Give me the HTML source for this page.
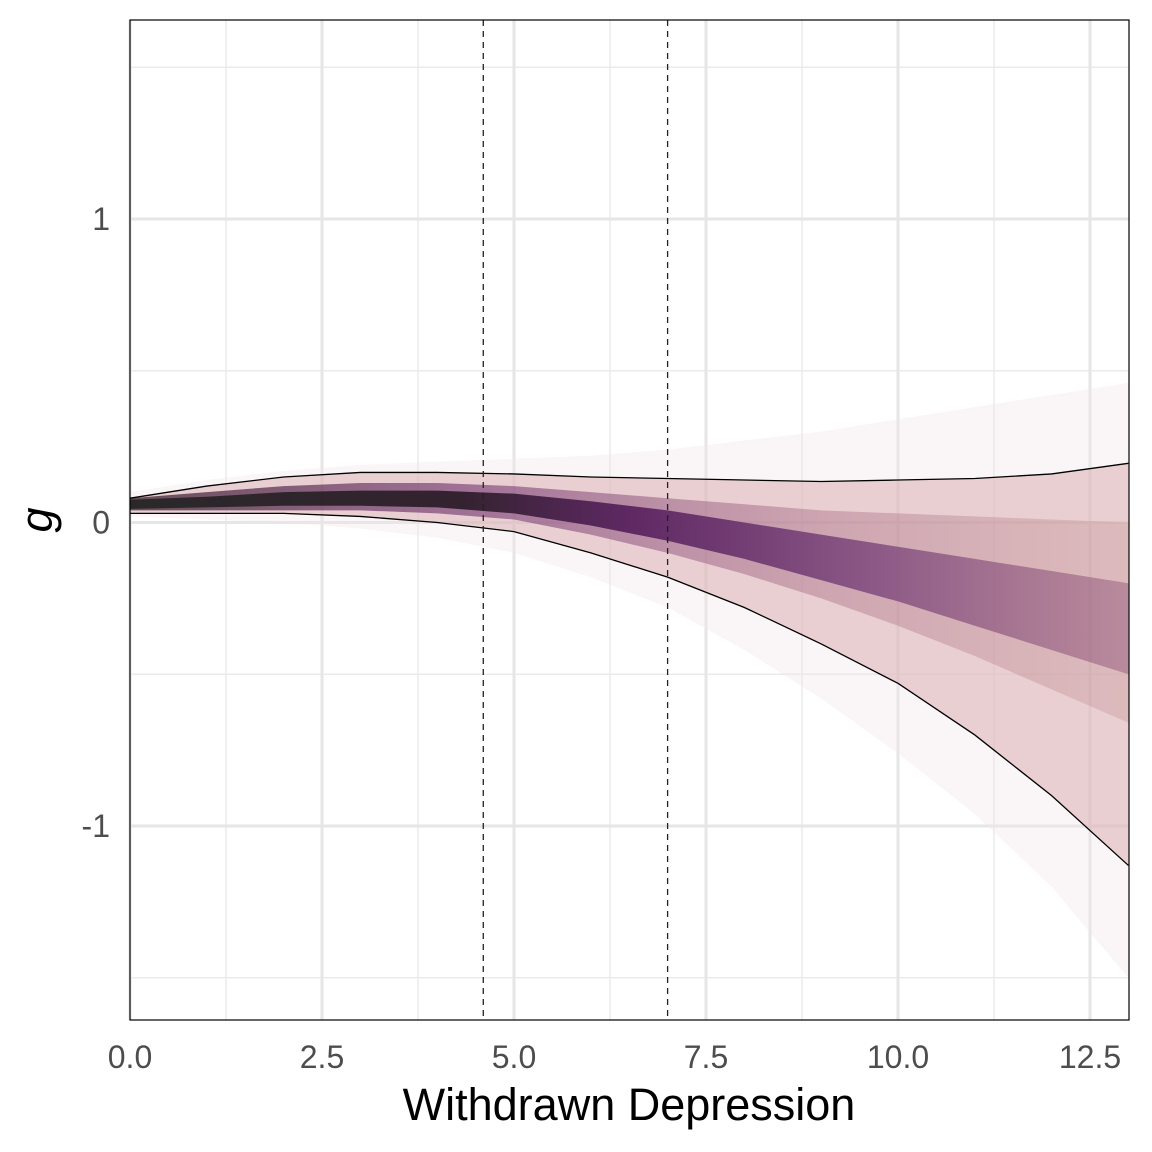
<!DOCTYPE html>
<html><head><meta charset="utf-8"><style>
body{margin:0;background:#fff}
svg{display:block;font-family:"Liberation Sans",sans-serif}
</style></head><body>
<svg id="chart" width="1152" height="1152">
<defs>
<linearGradient id="coreGrad" gradientUnits="userSpaceOnUse" x1="130" y1="0" x2="1129" y2="0">
<stop offset="0" stop-color="#262626"/><stop offset="0.33" stop-color="#2e1e2a"/><stop offset="0.5" stop-color="#5a2360"/><stop offset="0.75" stop-color="#6a3270" stop-opacity="0.7"/><stop offset="1" stop-color="#8a4a70" stop-opacity="0.45"/>
</linearGradient>
<linearGradient id="midGrad" gradientUnits="userSpaceOnUse" x1="130" y1="0" x2="1129" y2="0">
<stop offset="0" stop-color="#3a2030"/><stop offset="0.35" stop-color="#6b2a6a" stop-opacity="0.75"/><stop offset="0.7" stop-color="#a0607a" stop-opacity="0.5"/><stop offset="1" stop-color="#c08a8a" stop-opacity="0.4"/>
</linearGradient>
<clipPath id="clip"><rect x="130" y="20" width="999" height="1000"/></clipPath>
</defs>
<g id="grid"></g>
<g id="marks" clip-path="url(#clip)"></g>
<rect x="130" y="20" width="999" height="1000" fill="none" stroke="#000" stroke-width="1.2"/>
<g id="axes"></g>
<text x="629" y="1120" text-anchor="middle" font-size="45" fill="#000">Withdrawn Depression</text>
<text transform="translate(52,520) rotate(-90)" text-anchor="middle" font-size="45" font-style="italic" fill="#000">g</text>
</svg>
<script>
const xs=[0,1,2,3,4,5,6,7,8,9,10,11,12,13];
const upper=[0.08,0.12,0.15,0.165,0.165,0.16,0.15,0.145,0.14,0.135,0.14,0.145,0.16,0.195];
const lower=[0.03,0.03,0.03,0.02,0.0,-0.03,-0.1,-0.18,-0.28,-0.4,-0.53,-0.7,-0.9,-1.13];
const outerHi=[0.1,0.14,0.17,0.19,0.2,0.21,0.22,0.24,0.27,0.3,0.34,0.38,0.42,0.46];
const outerLo=[0.02,0.01,0.0,-0.02,-0.05,-0.1,-0.18,-0.28,-0.42,-0.58,-0.76,-0.96,-1.2,-1.5];
const midHi=[0.08,0.1,0.12,0.13,0.13,0.12,0.1,0.08,0.06,0.04,0.03,0.02,0.01,0.0];
const midLo=[0.04,0.04,0.04,0.04,0.03,0.01,-0.04,-0.1,-0.17,-0.25,-0.34,-0.44,-0.55,-0.66];
const coreHi=[0.075,0.085,0.1,0.105,0.105,0.095,0.07,0.04,0.0,-0.04,-0.08,-0.12,-0.16,-0.2];
const coreLo=[0.045,0.05,0.055,0.055,0.05,0.03,-0.01,-0.06,-0.12,-0.19,-0.26,-0.34,-0.42,-0.5];
const xTicks=[0,2.5,5,7.5,10,12.5];
const xTickLabels=["0.0","2.5","5.0","7.5","10.0","12.5"];
const xMinor=[1.25,3.75,6.25,8.75,11.25];
const yTicks=[1,0,-1];
const yTickLabels=["1","0","-1"];
const yMinor=[1.5,0.5,-0.5,-1.5];
const vlines=[4.6,7.0];
const X=v=>130+v*76.8;
const Y=v=>522.5-v*303.5;
const NS="http://www.w3.org/2000/svg";
function mk(t,a,p){const e=document.createElementNS(NS,t);for(const k in a)e.setAttribute(k,a[k]);p.appendChild(e);return e;}
const grid=document.getElementById('grid'),marks=document.getElementById('marks'),axes=document.getElementById('axes');
xMinor.forEach(v=>{const l=mk('line',{x1:X(v),x2:X(v),y1:20,y2:1020,stroke:'#ebebeb','stroke-width':1.5},grid);

});
yMinor.forEach(v=>{const l=mk('line',{x1:130,x2:1129,y1:Y(v),y2:Y(v),stroke:'#ebebeb','stroke-width':1.5},grid);

});
xTicks.forEach((v,i)=>{const l=mk('line',{x1:X(v),x2:X(v),y1:20,y2:1020,stroke:'#e6e6e6','stroke-width':3},grid);


const t=mk('text',{x:X(v),y:1068,'text-anchor':'middle','font-size':32,fill:'#4d4d4d'},axes);t.textContent=xTickLabels[i];

});
yTicks.forEach((v,i)=>{const l=mk('line',{x1:130,x2:1129,y1:Y(v),y2:Y(v),stroke:'#e6e6e6','stroke-width':3},grid);


const t=mk('text',{x:110,y:Y(v)+11,'text-anchor':'end','font-size':32,fill:'#4d4d4d'},axes);t.textContent=yTickLabels[i];

});
function band(hi,lo,fill,op,name){
let d='M'+xs.map((x,i)=>X(x)+','+Y(hi[i])).join('L');
d+='L'+xs.map((x,i)=>X(x)+','+Y(lo[i])).reverse().join('L')+'Z';
const p=mk('path',{d:d,fill:fill,'fill-opacity':op},marks);

}
band(outerHi,outerLo,'#f0e2e5',0.35,'outer-draw-band');
band(upper,lower,'#d8a9ae',0.5,'interval-band');
band(midHi,midLo,'url(#midGrad)',0.75,'mid-draw-band');
band(coreHi,coreLo,'url(#coreGrad)',0.95,'core-draw-band');
function line(arr,name){const p=mk('path',{d:'M'+xs.map((x,i)=>X(x)+','+Y(arr[i])).join('L'),fill:'none',stroke:'#000','stroke-width':1.3},marks);

}
line(upper,'upper-interval-line');line(lower,'lower-interval-line');
vlines.forEach(v=>{const l=mk('line',{x1:X(v),x2:X(v),y1:20,y2:1020,stroke:'#222','stroke-width':1.3,'stroke-dasharray':'6,5'},marks);

});
</script>
</body></html>
